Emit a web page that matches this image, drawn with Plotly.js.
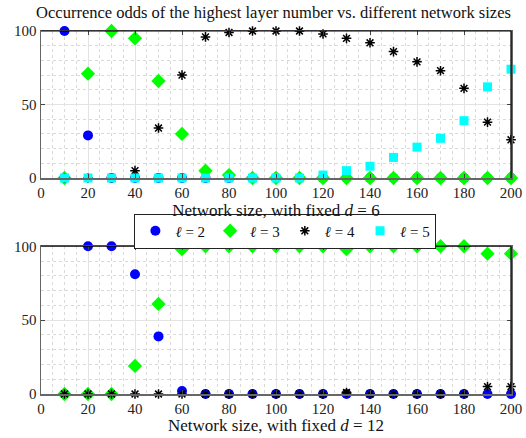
<!DOCTYPE html>
<html>
<head>
<meta charset="utf-8">
<script src="https://cdn.plot.ly/plotly-3.0.1.min.js"></script>
<style>html,body{margin:0;padding:0;background:#fff;}#chart{width:526px;height:438px;}</style>
</head>
<body>
<div id="chart"></div>
<script>
// Network sizes
const sizes = [10,20,30,40,50,60,70,80,90,100,110,120,130,140,150,160,170,180,190,200];

// Top panel: fixed d = 6
const d6_l2 = [100,29,0,0,0,0,0,0,0,0,0,0,0,0,0,0,0,0,0,0];
const d6_l3 = [0,71,100,95,66,30,5,2,0,0,0,0,0,0,0,0,0,0,0,0];
const d6_l4 = [0,0,0,5,34,70,96,99,100,100,100,98,95,92,86,79,73,61,38,26];
const d6_l5 = [0,0,0,0,0,0,0,0,0,0,0,2,5,8,14,21,27,39,62,74];

// Bottom panel: fixed d = 12
const d12_l2 = [0,100,100,81,39,2,0,0,0,0,0,0,0,0,0,0,0,0,0,0];
const d12_l3 = [0,0,0,19,61,98,100,100,100,100,100,100,98,100,100,100,100,100,95,95];
const d12_l4 = [0,0,0,0,0,0,0,0,0,0,0,0,1,0,0,0,0,0,5,5];

const seriesNames = ['<i>ℓ</i> = 2','<i>ℓ</i> = 3','<i>ℓ</i> = 4','<i>ℓ</i> = 5'];
const titleText = 'Occurrence odds of the highest layer number vs. different network sizes';
const xTitleTop = 'Network size, with fixed <i>d</i> = 6';
const xTitleBottom = 'Network size, with fixed <i>d</i> = 12';
const xTicks = [0,20,40,60,80,100,120,140,160,180,200];
const yTicks = [0,50,100];

const FONT = 'Liberation Serif, Times New Roman, serif';

const mk = {
  l2: {symbol:'circle', size:10, color:'#0000ff', line:{width:0}},
  l3: {symbol:'diamond', size:11, color:'#00ff00', line:{width:0}},
  l4: {symbol:'asterisk-open', size:8, color:'#000000', line:{width:1.5, color:'#000000'}},
  l5: {symbol:'square', size:9, color:'#00ffff', line:{width:0}}
};

function tr(x, y, name, marker, xa, ya, show) {
  return {x:x, y:y, name:name, type:'scatter', mode:'markers', marker:marker,
          xaxis:xa, yaxis:ya, showlegend:show, cliponaxis:false, hoverinfo:'skip'};
}

const data = [
  tr(sizes, d6_l2, seriesNames[0], mk.l2, 'x', 'y', true),
  tr(sizes, d6_l3, seriesNames[1], mk.l3, 'x', 'y', true),
  tr(sizes, d6_l4, seriesNames[2], mk.l4, 'x', 'y', true),
  tr(sizes, d6_l5, seriesNames[3], mk.l5, 'x', 'y', true),
  tr(sizes, d12_l2, seriesNames[0], mk.l2, 'x2', 'y2', false),
  tr(sizes, d12_l3, seriesNames[1], mk.l3, 'x2', 'y2', false),
  tr(sizes, d12_l4, seriesNames[2], mk.l4, 'x2', 'y2', false)
];

function xax(title, anchor) {
  return {
    range:[0,200], anchor:anchor, tickvals:xTicks, ticktext:xTicks.map(String),
    ticks:'inside', ticklen:4, tickcolor:'#444', mirror:'ticks',
    showline:true, linecolor:'#666', linewidth:1.5,
    showgrid:true, gridcolor:'#e3e3e3', gridwidth:1, zeroline:false,
    minor:{dtick:5, tick0:0, showgrid:true, gridcolor:'#d9d9d9', griddash:'dot', gridwidth:1},
    tickfont:{family:FONT, size:15, color:'#222'},
    title:{text:title, font:{family:FONT, size:17, color:'#111'}, standoff:1}
  };
}
function yax(domain, anchor) {
  return {
    range:[0,100], domain:domain, anchor:anchor, tickvals:yTicks,
    ticks:'inside', ticklen:4, tickcolor:'#444', mirror:'ticks',
    showline:true, linecolor:'#666', linewidth:1.5,
    showgrid:true, gridcolor:'#e3e3e3', gridwidth:1, zeroline:false,
    minor:{dtick:10, tick0:0, showgrid:true, gridcolor:'#d9d9d9', griddash:'dot', gridwidth:1},
    tickfont:{family:FONT, size:15, color:'#222'}
  };
}

function border(xref, yref) {
  return [
    {type:'line', xref:xref+' domain', yref:yref+' domain', x0:0, x1:1, y0:1, y1:1, line:{color:'#000', width:1.2}, layer:'above'},
    {type:'line', xref:xref+' domain', yref:yref+' domain', x0:1, x1:1, y0:0, y1:1, line:{color:'#000', width:1.2}, layer:'above'}
  ];
}

const layout = {
  width:526, height:438,
  margin:{l:41, r:15, t:31, b:44},
  paper_bgcolor:'#fff', plot_bgcolor:'#fff',
  title:{text:titleText, font:{family:FONT, size:16.5, color:'#111'}, x:0.52, xanchor:'center', y:0.985, yanchor:'top'},
  xaxis: xax(xTitleTop, 'y'),
  yaxis: yax([0.595, 1], 'x'),
  xaxis2: xax(xTitleBottom, 'y2'),
  yaxis2: yax([0, 0.407], 'x2'),
  shapes: border('x','y').concat(border('x2','y2')),
  showlegend:true,
  legend:{orientation:'h', x:0.52, xanchor:'center', y:0.449, yanchor:'middle',
          bgcolor:'#fff', bordercolor:'#222', borderwidth:1,
          font:{family:FONT, size:15, color:'#111'}, tracegroupgap:0}
};

Plotly.newPlot('chart', data, layout, {staticPlot:true, displayModeBar:false});
</script>
</body>
</html>
